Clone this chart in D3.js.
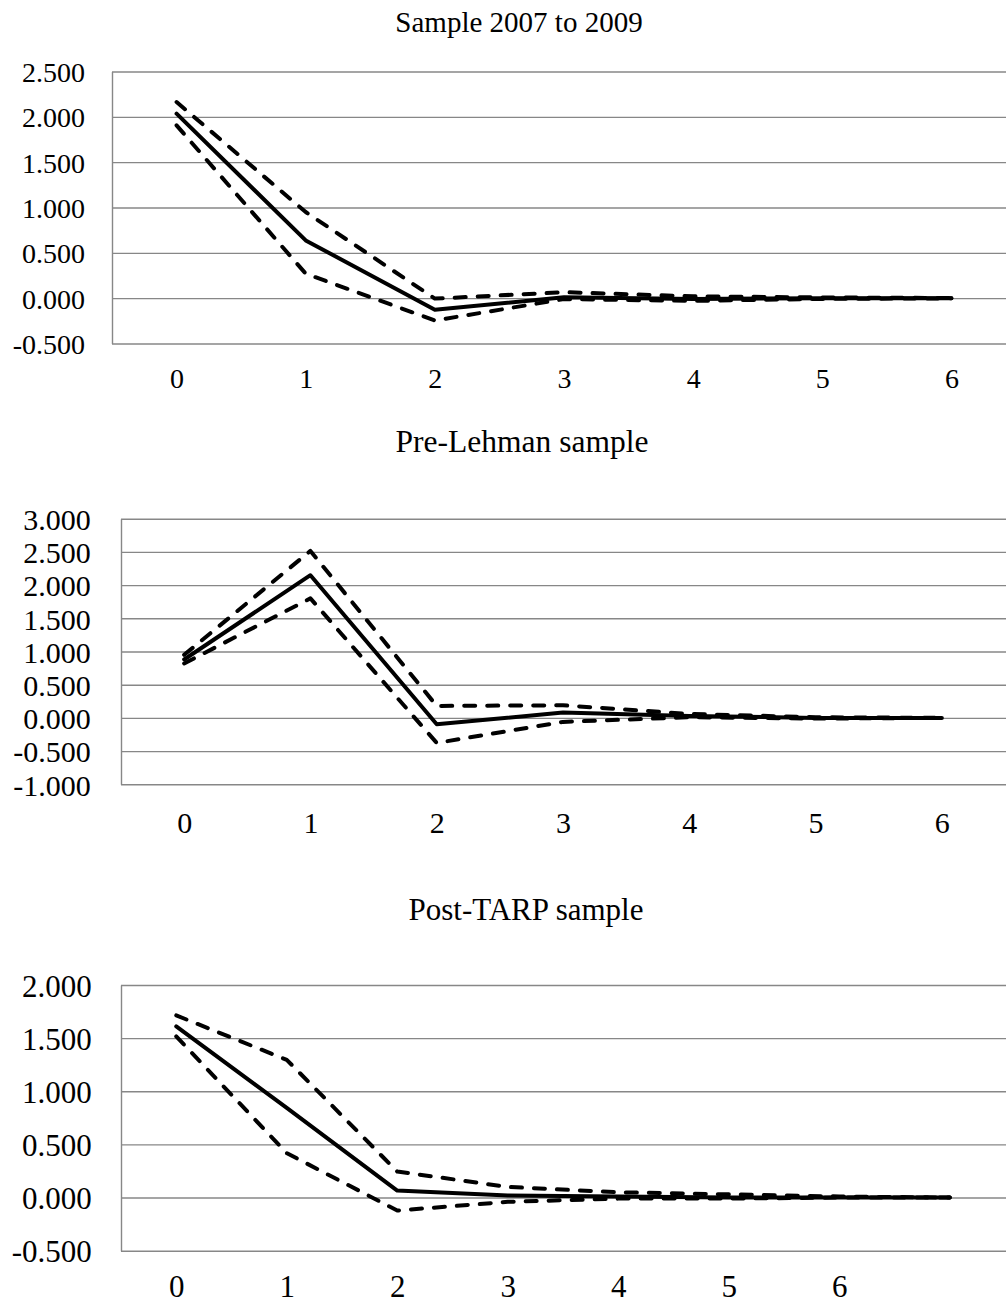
<!DOCTYPE html>
<html>
<head>
<meta charset="utf-8">
<script src="https://cdn.jsdelivr.net/npm/d3@7"></script>
<style>
  body { margin: 0; background: #fff; }
  svg text { font-family: "Liberation Serif", "Times New Roman", serif; fill: #000; }
</style>
</head>
<body>
<svg id="canvas"></svg>
<script>
//--data
let horizons = ["0", "1", "2", "3", "4", "5", "6"];
let horizonsPostTarp = ["0", "1", "2", "3", "4", "5", "6", "7"];
let xLabelsPostTarp = ["0", "1", "2", "3", "4", "5", "6"];

let sample0709Mid = [2.035, 0.637, -0.128, 0.01, -0.01, 0.0, 0.0];
let sample0709Upper = [2.163, 0.95, -0.005, 0.066, 0.02, 0.008, 0.002];
let sample0709Lower = [1.906, 0.27, -0.246, -0.01, -0.03, -0.008, -0.002];

let preLehmanMid = [0.88, 2.149, -0.095, 0.08, 0.03, 0.0, 0.0];
let preLehmanUpper = [0.95, 2.515, 0.18, 0.19, 0.06, 0.01, 0.0];
let preLehmanLower = [0.82, 1.80, -0.377, -0.06, 0.01, -0.01, 0.0];

let postTarpMid = [1.61, 0.844, 0.066, 0.02, 0.01, 0.0, 0.0, 0.0];
let postTarpUpper = [1.714, 1.296, 0.245, 0.10, 0.05, 0.03, 0.01, 0.0];
let postTarpLower = [1.516, 0.418, -0.122, -0.04, -0.01, -0.01, 0.0, 0.0];

let ticks0709 = [-0.5, 0, 0.5, 1, 1.5, 2, 2.5];
let ticksPreLehman = [-1, -0.5, 0, 0.5, 1, 1.5, 2, 2.5, 3];
let ticksPostTarp = [-0.5, 0, 0.5, 1, 1.5, 2];
//--

let width = 1006;
let height = 1305;

let canvas = d3.select("#canvas")
canvas.attr("width", width)
canvas.attr("height", height)

// excel style labels, plain hyphen for negatives
let fmt = d => d3.format(".3f")(d).replace("\u2212", "-")

// one entry per panel, layout only
let panels = [
    { title: "Sample 2007 to 2009", cats: horizons, labels: horizons, ticks: ticks0709,
      mid: sample0709Mid, up: sample0709Upper, lo: sample0709Lower,
      left: 112, right: 1016, top: 71.5, bottom: 343.5,
      titleX: 519, titleY: 32, titleSize: 29, tickSize: 28, labelRight: 85, xBase: 388 },
    { title: "Pre-Lehman sample", cats: horizons, labels: horizons, ticks: ticksPreLehman,
      mid: preLehmanMid, up: preLehmanUpper, lo: preLehmanLower,
      left: 121, right: 1005, top: 518.7, bottom: 784.3,
      titleX: 522, titleY: 452, titleSize: 31.5, tickSize: 30, labelRight: 90.7, xBase: 833 },
    { title: "Post-TARP sample", cats: horizonsPostTarp, labels: xLabelsPostTarp, ticks: ticksPostTarp,
      mid: postTarpMid, up: postTarpUpper, lo: postTarpLower,
      left: 121, right: 1005, top: 985, bottom: 1250.7,
      titleX: 526, titleY: 920, titleSize: 31, tickSize: 31, labelRight: 91.7, xBase: 1297 }
];

let drawPanel = (p) => {
    let x = d3.scalePoint()
              .domain(p.cats)
              .range([p.left, p.right])
              .padding(0.5)

    let y = d3.scaleLinear()
              .domain([p.ticks[0], p.ticks[p.ticks.length - 1]])
              .range([p.bottom, p.top])

    canvas.append("text")
          .attr("x", p.titleX)
          .attr("y", p.titleY)
          .attr("text-anchor", "middle")
          .attr("font-size", p.titleSize)
          .text(p.title)

    // gridlines + y labels
    let yAxis = canvas.append("g")
                      .attr("transform", "translate(" + p.left + ",0)")
                      .call(d3.axisLeft(y)
                              .tickValues(p.ticks)
                              .tickFormat(fmt)
                              .tickSize(-(width - p.left))
                              .tickSizeOuter(0)
                              .tickPadding(p.left - p.labelRight))
    yAxis.select(".domain").attr("stroke", "#878787").attr("stroke-width", 1.4)
    yAxis.selectAll(".tick line").attr("stroke", "#878787").attr("stroke-width", 1.4)
    yAxis.selectAll(".tick text")
         .attr("font-size", p.tickSize)
         .attr("font-family", "Liberation Serif")
         .attr("dy", "0.36em")

    // x labels
    let xAxis = canvas.append("g")
                      .attr("transform", "translate(0," + p.bottom + ")")
                      .call(d3.axisBottom(x).tickValues(p.labels).tickSize(0))
    xAxis.select(".domain").remove()
    xAxis.selectAll(".tick text")
         .attr("font-size", p.tickSize)
         .attr("font-family", "Liberation Serif")
         .attr("y", p.xBase - p.bottom)
         .attr("dy", 0)

    let line = d3.line()
                 .x((d, i) => x(p.cats[i]))
                 .y(d => y(d))

    canvas.append("path")
          .datum(p.up)
          .attr("d", line)
          .attr("fill", "none")
          .attr("stroke", "#000")
          .attr("stroke-width", 4)
          .attr("stroke-linecap", "round")
          .attr("stroke-linejoin", "round")
          .attr("stroke-dasharray", "11,12")

    canvas.append("path")
          .datum(p.lo)
          .attr("d", line)
          .attr("fill", "none")
          .attr("stroke", "#000")
          .attr("stroke-width", 4)
          .attr("stroke-linecap", "round")
          .attr("stroke-linejoin", "round")
          .attr("stroke-dasharray", "11,12")

    canvas.append("path")
          .datum(p.mid)
          .attr("d", line)
          .attr("fill", "none")
          .attr("stroke", "#000")
          .attr("stroke-width", 4)
          .attr("stroke-linecap", "round")
          .attr("stroke-linejoin", "round")
}

panels.forEach(drawPanel)
</script>
</body>
</html>
